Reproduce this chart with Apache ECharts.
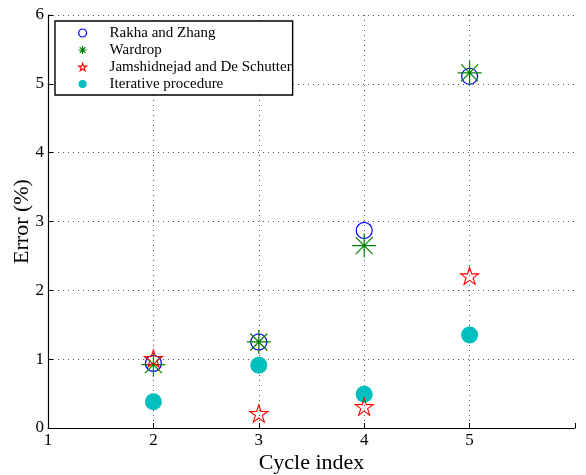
<!DOCTYPE html>
<html>
<head>
<meta charset="utf-8">
<script src="https://cdn.jsdelivr.net/npm/echarts@6/dist/echarts.min.js"></script>
<style>html,body{margin:0;padding:0;background:#fff;}#c{width:586px;height:475px;}</style>
</head>
<body>
<div id="c"></div>
<script>
const cycles = [2, 3, 4, 5];
const rakhaZhang = [0.94, 1.25, 2.87, 5.11];
const wardrop = [0.92, 1.25, 2.65, 5.16];
const jamshidnejad = [1.01, 0.21, 0.31, 2.21];
const iterative = [0.38, 0.91, 0.49, 1.35];
const seriesNames = ['Rakha and Zhang', 'Wardrop', 'Jamshidnejad and De Schutter', 'Iterative procedure'];
const xTicks = [1, 2, 3, 4, 5];

const pair = (vals) => cycles.map((c, i) => [c, vals[i]]);
const FONT = 'Liberation Serif';
const asterisk = 'path://M0,12 L24,12 M12,0 L12,24 M3.5,3.5 L20.5,20.5 M20.5,3.5 L3.5,20.5';
const star = 'path://M50,0 L61.2,34.5 L97.6,34.5 L68.2,55.9 L79.4,90.5 L50,69.1 L20.6,90.5 L31.8,55.9 L2.4,34.5 L38.8,34.5 Z';
const clear = 'rgba(0,0,0,0)';
const gridGray = '#555';

const chart = echarts.init(document.getElementById('c'), null, {renderer: 'canvas'});
chart.setOption({
  animation: false,
  backgroundColor: '#fff',
  grid: {left: 48, right: 11, top: 15, bottom: 47, outerBoundsMode: 'none', containLabel: false},
  legend: {
    orient: 'vertical',
    left: 55, top: 21,
    padding: [3.5, 1, 2.5, 23],
    itemWidth: 8, itemHeight: 8,
    itemGap: 0,
    borderColor: '#000', borderWidth: 1.4,
    backgroundColor: '#fff',
    textStyle: {fontFamily: FONT, fontSize: 15, color: '#000', lineHeight: 17, padding: [0, 0, 0, 18]},
    data: [
      {name: seriesNames[0], icon: 'circle', itemStyle: {color: clear, borderColor: '#0000ff', borderWidth: 1.2}},
      {name: seriesNames[1], icon: asterisk, itemStyle: {color: clear, borderColor: '#008000', borderWidth: 1.2}},
      {name: seriesNames[2], icon: star, itemStyle: {color: clear, borderColor: '#ff0000', borderWidth: 1.1}},
      {name: seriesNames[3], icon: 'circle', itemStyle: {color: '#00bfbf', borderWidth: 0}}
    ]
  },
  xAxis: {
    type: 'value', min: 1, max: 6, interval: 1,
    name: 'Cycle index', nameLocation: 'middle', nameGap: 24, nameMoveOverlap: false,
    nameTextStyle: {fontFamily: FONT, fontSize: 22, color: '#000'},
    axisLine: {show: true, onZero: false, lineStyle: {color: '#000', width: 1.2}},
    axisTick: {show: true, inside: true, length: 5, lineStyle: {color: '#000'}},
    axisLabel: {fontFamily: FONT, fontSize: 17, color: '#000', margin: 4,
      formatter: v => xTicks.includes(v) ? String(v) : ''},
    splitLine: {show: true, lineStyle: {color: [gridGray, gridGray, gridGray, gridGray, gridGray, clear], type: [1, 4], width: 1}}
  },
  yAxis: {
    type: 'value', min: 0, max: 6, interval: 1,
    name: 'Error (%)', nameLocation: 'middle', nameGap: 15, nameMoveOverlap: false,
    nameTextStyle: {fontFamily: FONT, fontSize: 22, color: '#000'},
    axisLine: {show: true, onZero: false, lineStyle: {color: '#000', width: 1.2}},
    axisTick: {show: true, inside: true, length: 5, lineStyle: {color: '#000'}},
    axisLabel: {fontFamily: FONT, fontSize: 17, color: '#000', margin: 4},
    splitLine: {show: true, lineStyle: {color: gridGray, type: [1, 4], width: 1}}
  },
  series: [
    {
      name: seriesNames[3], type: 'scatter', data: pair(iterative), z: 1,
      symbol: 'circle', symbolSize: 17,
      itemStyle: {color: '#00bfbf', opacity: 1}
    },
    {
      name: seriesNames[0], type: 'scatter', data: pair(rakhaZhang), z: 2,
      symbol: 'circle', symbolSize: 16,
      itemStyle: {color: clear, borderColor: '#0000ff', borderWidth: 1.2, opacity: 1}
    },
    {
      name: seriesNames[1], type: 'scatter', data: pair(wardrop), z: 3,
      symbol: asterisk, symbolSize: 24, symbolKeepAspect: true,
      itemStyle: {color: clear, borderColor: '#008000', borderWidth: 1.2, opacity: 1}
    },
    {
      name: seriesNames[2], type: 'scatter', data: pair(jamshidnejad), z: 4,
      symbol: star, symbolSize: 18, symbolKeepAspect: true,
      itemStyle: {color: clear, borderColor: '#ff0000', borderWidth: 1.1, opacity: 1}
    }
  ]
});
</script>
</body>
</html>
